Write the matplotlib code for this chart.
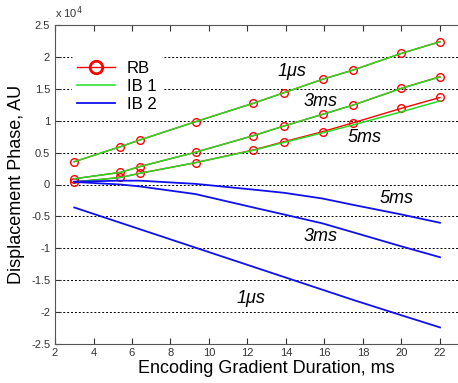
import numpy as np
import matplotlib.pyplot as plt
from matplotlib.ticker import FormatStrFormatter

plt.rcParams['font.family'] = ['Liberation Sans', 'DejaVu Sans']

# encoding gradient duration, ms
dur = [3, 5.4, 6.4, 9.3, 12.3, 13.9, 15.9, 17.5, 20, 22]

# displacement phase, x 1e4
rb_1us = [0.357, 0.593, 0.697, 0.984, 1.273, 1.439, 1.649, 1.795, 2.056, 2.238]
rb_3ms = [0.09, 0.19, 0.28, 0.505, 0.765, 0.917, 1.10, 1.246, 1.508, 1.69]
rb_5ms = [0.04, 0.11, 0.175, 0.342, 0.541, 0.671, 0.828, 0.969, 1.194, 1.364]

ib1_1us = [0.357, 0.593, 0.697, 0.984, 1.273, 1.439, 1.649, 1.795, 2.056, 2.238]
ib1_3ms = [0.09, 0.19, 0.28, 0.505, 0.765, 0.917, 1.10, 1.246, 1.508, 1.685]
ib1_5ms = [0.04, 0.11, 0.175, 0.342, 0.535, 0.66, 0.81, 0.935, 1.14, 1.31]

ib2_1us = [-0.36, -0.60, -0.70, -0.99, -1.29, -1.45, -1.65, -1.81, -2.05, -2.24]
ib2_3ms = [0.04, 0.0, -0.03, -0.15, -0.36, -0.47, -0.61, -0.75, -0.97, -1.14]
ib2_5ms = [0.045, 0.06, 0.06, 0.01, -0.08, -0.13, -0.22, -0.32, -0.47, -0.60]

red = '#ff0000'
green = '#22dd22'
blue = '#1010ee'

fig = plt.figure(figsize=(4.58, 3.83), dpi=100)
ax = fig.add_axes([55 / 458, 39 / 383, 423.5 / 458, 319 / 383])

for y in [rb_1us, rb_3ms, rb_5ms]:
    l_rb, = ax.plot(dur, y, color=red, lw=1.0, marker='o', ms=5.5, mfc='none', mew=1.0)
for y in [ib1_1us, ib1_3ms, ib1_5ms]:
    l_ib1, = ax.plot(dur, y, color=green, lw=1.1)
for y in [ib2_1us, ib2_3ms, ib2_5ms]:
    l_ib2, = ax.plot(dur, y, color=blue, lw=1.3)

ax.set_xlim(2, 24)
ax.set_ylim(-2.5, 2.5)
ax.set_xticks(np.arange(2, 24, 2))
ax.set_yticks(np.arange(-2.5, 2.6, 0.5))
ax.yaxis.set_major_formatter(FormatStrFormatter('%g'))
ax.tick_params(direction='in', length=4, labelsize=8, colors='#333333', top=True)
ax.tick_params(axis='x', pad=3)
ax.yaxis.grid(True, linestyle=(0, (2, 2)), color='black', lw=0.7)
for s in ax.spines.values():
    s.set_color('#555555')
ax.spines['right'].set_visible(False)

ax.text(0.0, 1.012, r'x 10$^4$', transform=ax.transAxes, fontsize=8, color='#333333',
        va='bottom', ha='left')

ax.set_xlabel('Encoding Gradient Duration, ms', fontsize=13, labelpad=1)
ax.set_ylabel('Displacement Phase, AU', fontsize=13, labelpad=4)

# curve labels
lab = dict(fontsize=13, style='italic', ha='center', va='center')
ax.text(14.3, 1.77, '1\u03bcs', **lab)
ax.text(15.8, 1.30, '3ms', **lab)
ax.text(18.1, 0.74, '5ms', **lab)
ax.text(19.75, -0.22, '5ms', **lab)
ax.text(15.8, -0.82, '3ms', **lab)
ax.text(12.2, -1.78, '1\u03bcs', **lab)

leg = ax.legend([l_rb, l_ib1, l_ib2], ['RB', 'IB 1', 'IB 2'], loc='upper left',
                bbox_to_anchor=(0.02, 0.93), fontsize=12, frameon=True,
                edgecolor='white', framealpha=1.0, handlelength=2.3,
                handletextpad=0.7, labelspacing=0.2, borderpad=0.3)
h = leg.legend_handles
h[0].set_markersize(9)
h[0].set_markeredgewidth(2)

fig.savefig('out.png', dpi=100)
